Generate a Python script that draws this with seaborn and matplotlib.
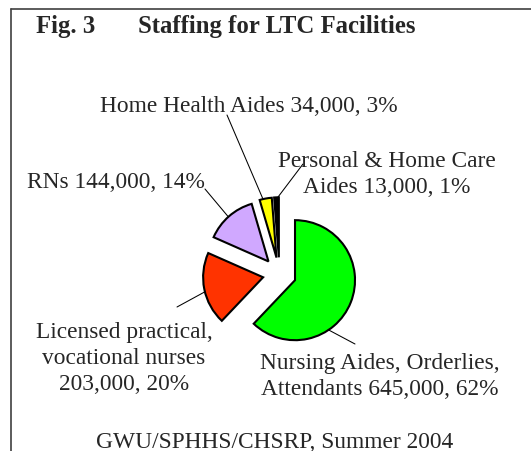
#!/usr/bin/env python3
# -*- coding: utf-8 -*-
"""
Fig. 3 - Staffing for LTC Facilities (exploded pie with leader lines)
"""
#%% Imports ###################################################################
import numpy as np
import matplotlib
matplotlib.use("Agg")
import matplotlib.pyplot as plt
from matplotlib.lines import Line2D
import seaborn as sns

#%% Data ######################################################################
categories = ["Nursing Aides, Orderlies,\nAttendants",
              "Licensed practical,\nvocational nurses",
              "RNs",
              "Home Health Aides",
              "Personal & Home Care\nAides"]
staff = [645000, 203000, 144000, 34000, 13000]
joins = [" ", "\n", " ", " ", " "]   # how the count is glued onto the name
slice_colors = ["#00FF00", "#FF3300", "#D0A8FF", "#FFFF00", "#000000"]

title_fig = "Fig. 3"
title_txt = "Staffing for LTC Facilities"
footer = "GWU/SPHHS/CHSRP, Summer 2004"

#%% Layout (pixels, measured from top-left of the image) #####################
W, H = 531, 452
R = 60.0                 # pie radius in px
CX, CY = 279.5, 275.0    # pie centre in px
explode_px = 16.7

# where the leader line leaves each wedge (deg) and where it ends (px)
anchor_angles = [-56, 194, 132, 103, 91]
line_ends = [(355, 345), (177, 308), (205, 190), (227, 116), (303, 165)]
# text anchor (centre x, baseline of LAST line y) in px
label_pos = [(380, 395), (124, 390), (116, 188), (249, 112), (387, 193)]


def px(x, y):
    """pixel (from top-left) -> data coords of the full-figure axes"""
    return (x - CX) / R, (CY - y) / R


#%% Plot ######################################################################
sns.set_style("white")
plt.rcParams["font.family"] = ["Liberation Serif", "DejaVu Serif"]
colors = sns.color_palette(slice_colors)

fig = plt.figure(figsize=(W / 100, H / 100), dpi=100)
ax = fig.add_axes([0, 0, 1, 1])

wedges, _ = ax.pie(staff, colors=colors, startangle=90, counterclock=False,
                   explode=[explode_px / R] * len(staff), radius=1.0,
                   wedgeprops=dict(edgecolor="black", linewidth=1.5))

ax.set_xlim(-CX / R, (W - CX) / R)
ax.set_ylim(-(H - CY) / R, CY / R)
ax.set_aspect("auto")
ax.axis("off")

total = sum(staff)
for i, w in enumerate(wedges):
    pct = round(100 * staff[i] / total)
    label = f"{categories[i]}{joins[i]}{staff[i]:,}, {pct}%"
    a = np.deg2rad(anchor_angles[i])
    p = (w.center[0] + w.r * np.cos(a), w.center[1] + w.r * np.sin(a))
    q = px(*line_ends[i])
    ax.plot([p[0], q[0]], [p[1], q[1]], color="black", lw=0.75)
    tx, ty = px(*label_pos[i])
    ax.text(tx, ty, label, ha="center", va="baseline", multialignment="center",
            fontsize=16.8, linespacing=1.32)

# title and footer
fig.text(36 / W, 1 - 33 / H, title_fig, fontsize=17.8, fontweight="bold",
         va="baseline", ha="left")
fig.text(138 / W, 1 - 33 / H, title_txt, fontsize=17.8, fontweight="bold",
         va="baseline", ha="left")
fig.text(275 / W, 1 - 448 / H, footer, fontsize=16.8, va="baseline", ha="center")

# frame (top + left edge of the original box)
fig.add_artist(Line2D([11 / W, 1], [1 - 10 / H, 1 - 10 / H], color="#404040", lw=1.2))
fig.add_artist(Line2D([11 / W, 11 / W], [0, 1 - 10 / H], color="#404040", lw=1.2))

fig.savefig("out.png", dpi=100)
